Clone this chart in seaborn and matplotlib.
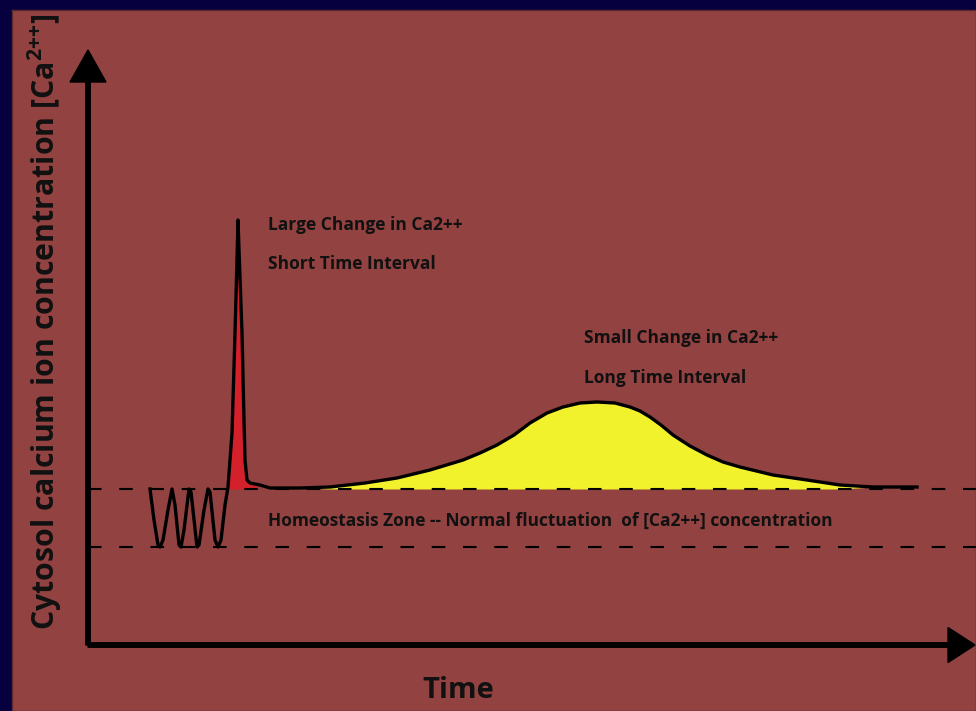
import numpy as np
import pandas as pd
import matplotlib
matplotlib.use('Agg')
import matplotlib.pyplot as plt
import seaborn as sns

# curve (time, [Ca2+] in arbitrary units)
time = [6.2, 6.6, 7.0, 7.2, 7.5, 8.0, 8.4, 8.7, 9.1, 9.3, 9.6, 10.1, 10.3, 10.9,
        11.1, 11.6, 12.0, 12.2, 12.7, 13.0, 13.3, 13.7, 14.0,
        14.2, 14.4, 14.7, 14.9, 15.0, 15.1, 15.4, 15.6, 15.7, 15.9, 16.2, 17.2, 18.2,
        21.2, 24.2, 27.7, 30.9, 34.2, 37.5, 39.2, 40.9, 42.6, 44.2, 45.9, 47.5, 49.2,
        50.9, 52.7, 54.2, 55.2, 56.2, 57.3, 58.5, 60.2, 61.9, 63.5, 65.2, 68.5, 71.9,
        75.2, 78.5, 82.9]
conc = [15.6, 12.5, 10.0, 9.8, 10.5, 13.5, 15.6, 14.0, 10.0, 9.8, 11.5, 15.6, 15.3, 9.8,
        10.0, 13.5, 15.6, 15.3, 10.5, 9.8, 10.5, 14.0, 15.8,
        18.5, 21.2, 31.2, 38.5, 42.5, 39.5, 31.2, 22.5, 18.5, 16.5, 16.2, 16.0, 15.7,
        15.7, 15.8, 16.2, 16.7, 17.5, 18.5, 19.2, 20.0, 21.0, 22.2, 23.2, 23.8, 24.2,
        24.3, 24.2, 23.8, 23.4, 22.8, 22.0, 21.0, 19.9, 19.0, 18.3, 17.8, 17.0, 16.5,
        16.0, 15.8, 15.8]

zone_high = 15.6
zone_low = 9.8
spike_range = (14.0, 16.2)
wave_range = (24.2, 77.0)

bg = '#924240'
navy = '#06003e'

df = pd.DataFrame({'time': time, 'conc': conc})

plt.rcParams['font.family'] = ['Open Sans', 'DejaVu Sans']
plt.rcParams['mathtext.fontset'] = 'custom'
plt.rcParams['mathtext.rm'] = 'Open Sans:bold'
plt.rcParams['mathtext.it'] = 'Open Sans:bold'
plt.rcParams['mathtext.bf'] = 'Open Sans:bold'

fig = plt.figure(figsize=(9.76, 7.11), dpi=100, facecolor=navy)
ax = fig.add_axes([12 / 976, 0, 964 / 976, 701 / 711])
ax.set_facecolor(bg)
ax.set_xlim(-7.6, 88.8)
ax.set_ylim(-6.6, 63.5)
ax.set_xticks([])
ax.set_yticks([])
for s in ax.spines.values():
    s.set_color('#5a2a2c')
    s.set_linewidth(1.0)

# homeostasis zone
for lvl in (zone_high, zone_low):
    ax.axhline(lvl, xmin=(0 + 7.6) / 96.4, xmax=1, color='black', lw=1.5,
               dashes=(6.5, 8.5))

t = np.array(time)
c = np.array(conc)
ax.fill_between(t, c, zone_high, where=(t >= spike_range[0]) & (t <= spike_range[1]) & (c >= zone_high),
                color='#d4202a', lw=0, interpolate=True)
ax.fill_between(t, c, zone_high, where=(t >= wave_range[0]) & (t <= wave_range[1]),
                color='#f2f22c', lw=0, interpolate=True)

sns.lineplot(data=df, x='time', y='conc', ax=ax, color='black', lw=2.4,
             sort=False, estimator=None)
ax.set_xlabel('')
ax.set_ylabel('')

# axes arrows
ax.arrow(0, 0, 0, 59.5, width=0.45, head_width=3.6, head_length=3.2,
         length_includes_head=True, fc='black', ec='black')
ax.arrow(0, 0, 88.7, 0, width=0.45, head_width=3.5, head_length=2.7,
         length_includes_head=True, fc='black', ec='black')

tk = dict(fontsize=12.5, fontweight='bold', color='#111111', va='center', ha='left')
ax.text(18.0, 42.0, 'Large Change in Ca2++', **tk)
ax.text(18.0, 38.1, 'Short Time Interval', **tk)
ax.text(49.6, 30.7, 'Small Change in Ca2++', **tk)
ax.text(49.6, 26.7, 'Long Time Interval', **tk)
ax.text(18.0, 12.4, 'Homeostasis Zone -- Normal fluctuation  of [Ca2++] concentration', **tk)

ax.text(37.0, -4.5, 'Time', fontsize=21, fontweight='bold', color='#111111',
        ha='center', va='center')
ax.text(-4.3, 32.3, 'Cytosol calcium ion concentration [Ca$^{2{+}{+}}$]', fontsize=21.8,
        fontweight='bold', color='#111111', ha='center', va='center', rotation=90)

fig.savefig('out.png', dpi=100, facecolor=navy)
